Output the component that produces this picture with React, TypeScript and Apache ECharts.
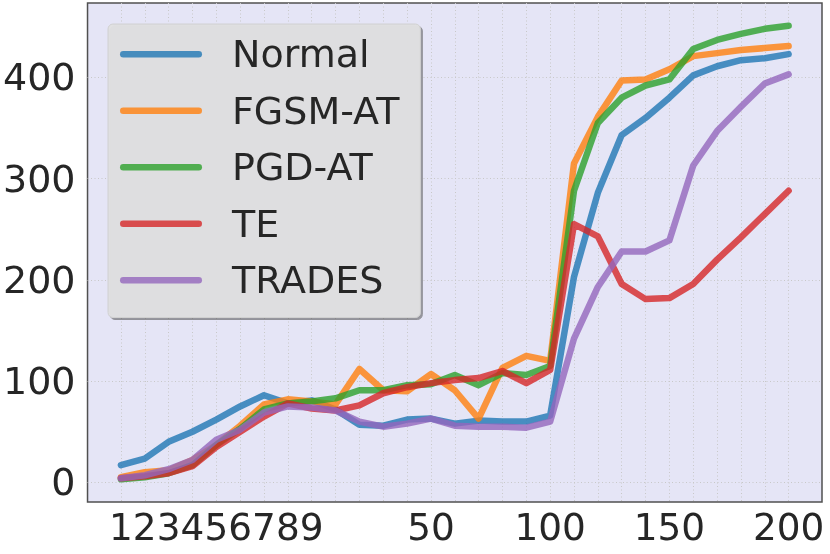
import React, { useEffect, useRef } from "react";
import * as echarts from "echarts";

const categories = ["1", "2", "3", "4", "5", "6", "7", "8", "9", "10", "20", "30", "40", "50", "60", "70", "80", "90", "100", "110", "120", "130", "140", "150", "160", "170", "180", "190", "200"];
const tickLabels = ["1", "2", "3", "4", "5", "6", "7", "8", "9", "50", "100", "150", "200"];
const yTicks = [0, 100, 200, 300, 400];

const seriesNames = ["Normal", "FGSM-AT", "PGD-AT", "TE", "TRADES"];
const normal = [17, 23.5, 40, 50, 62, 75, 86, 78, 81, 72, 57, 56, 62, 63, 58, 61, 60, 60, 66, 203, 286, 343, 360, 380, 402, 411, 417, 419, 423];
const fgsmAT = [5, 10, 12, 22, 37, 56, 77, 82, 80, 77, 112, 91, 90, 107, 91, 63, 113, 125, 120, 315, 361, 397, 398, 408, 421, 424, 427, 429, 431];
const pgdAT = [3, 5, 9, 17, 37, 53, 72, 78, 80, 83, 91, 91, 96, 97, 106, 96, 108, 106, 115, 288, 355, 380, 392, 398, 428, 437, 443, 448, 451];
const te = [4, 6, 9, 16, 35, 50, 65, 78, 73, 71, 76, 88, 94, 98, 101, 103, 110, 98, 111, 255, 243, 196, 181, 182, 196, 220, 242, 265, 288];
const trades = [4, 7, 13, 22, 42, 52, 69, 75, 74, 71, 60, 55, 58, 63, 56, 55, 55, 54, 60, 142, 193, 228, 228, 239, 313, 347, 371, 394, 403];
const seriesValues = [normal, fgsmAT, pgdAT, te, trades];
const seriesColors = [
  "rgba(31,119,180,0.8)",
  "rgba(255,127,14,0.8)",
  "rgba(44,160,44,0.8)",
  "rgba(214,39,40,0.8)",
  "rgba(148,103,189,0.8)",
];

const FONT = "DejaVu Sans";
const TEXT = "#262626";

export default function App() {
  const ref = useRef<HTMLDivElement>(null);
  useEffect(() => {
    if (!ref.current) return;
    const chart = echarts.init(ref.current, null, { renderer: "svg" });
    const allIdx = categories.map((_, i) => i);
    const labelIdx = tickLabels.map((t) => categories.indexOf(t));
    const gridLine = { show: true, lineStyle: { color: "#c8c8c8", width: 1, type: [1, 2.5] as any } };
    chart.setOption({
      animation: false,
      textStyle: { fontFamily: FONT },
      grid: {
        left: 87,
        right: 8,
        top: 3,
        bottom: 52,
        show: true,
        backgroundColor: "#e5e5f6",
        borderColor: "#505050",
        borderWidth: 1.5,
      },
      xAxis: {
        type: "value",
        min: -1.4,
        max: 29.4,
        axisLine: { show: false },
        axisTick: { show: false, customValues: allIdx },
        splitLine: gridLine,
        axisLabel: {
          customValues: labelIdx,
          formatter: (v: number) => categories[Math.round(v)] ?? "",
          fontSize: 37.4,
          color: TEXT,
          fontFamily: FONT,
          margin: 6,
          showMinLabel: true,
          showMaxLabel: true,
          hideOverlap: false,
        },
      },
      yAxis: {
        type: "value",
        min: -19.4,
        max: 473.5,
        axisLine: { show: false },
        axisTick: { show: false, customValues: yTicks },
        splitLine: gridLine,
        axisLabel: {
          customValues: yTicks,
          fontSize: 38,
          color: TEXT,
          fontFamily: FONT,
          margin: 12,
          showMinLabel: true,
          showMaxLabel: true,
          hideOverlap: false,
        },
      },
      legend: {
        orient: "vertical",
        left: 108,
        top: 24,
        padding: [2, 21, 9, 12],
        itemGap: 0,
        itemWidth: 82,
        itemHeight: 6.5,
        icon: "path://M3.25,0H78.75A3.25,3.25,0,0,1,78.75,6.5H3.25A3.25,3.25,0,0,1,3.25,0Z",
        backgroundColor: "rgba(224,224,226,0.95)",
        borderColor: "#d0d0d0",
        borderWidth: 1,
        borderRadius: 5,
        shadowColor: "rgba(90,90,90,0.6)",
        shadowOffsetX: 2,
        shadowOffsetY: 2,
        shadowBlur: 1,
        textStyle: {
          fontSize: 38,
          color: TEXT,
          fontFamily: FONT,
          lineHeight: 56.5,
          padding: [0, 0, 0, 25],
        },
        data: seriesNames,
      },
      series: seriesNames.map((name, k) => ({
        name,
        type: "line",
        color: seriesColors[k],
        symbol: "none",
        lineStyle: { width: 6.5, cap: "round", join: "round", color: seriesColors[k] },
        data: seriesValues[k].map((v, i) => [i, v]),
      })),
    });
    return () => chart.dispose();
  }, []);
  return <div ref={ref} style={{ position: "fixed", left: 0, top: 0, width: 830, height: 554 }} />;
}
